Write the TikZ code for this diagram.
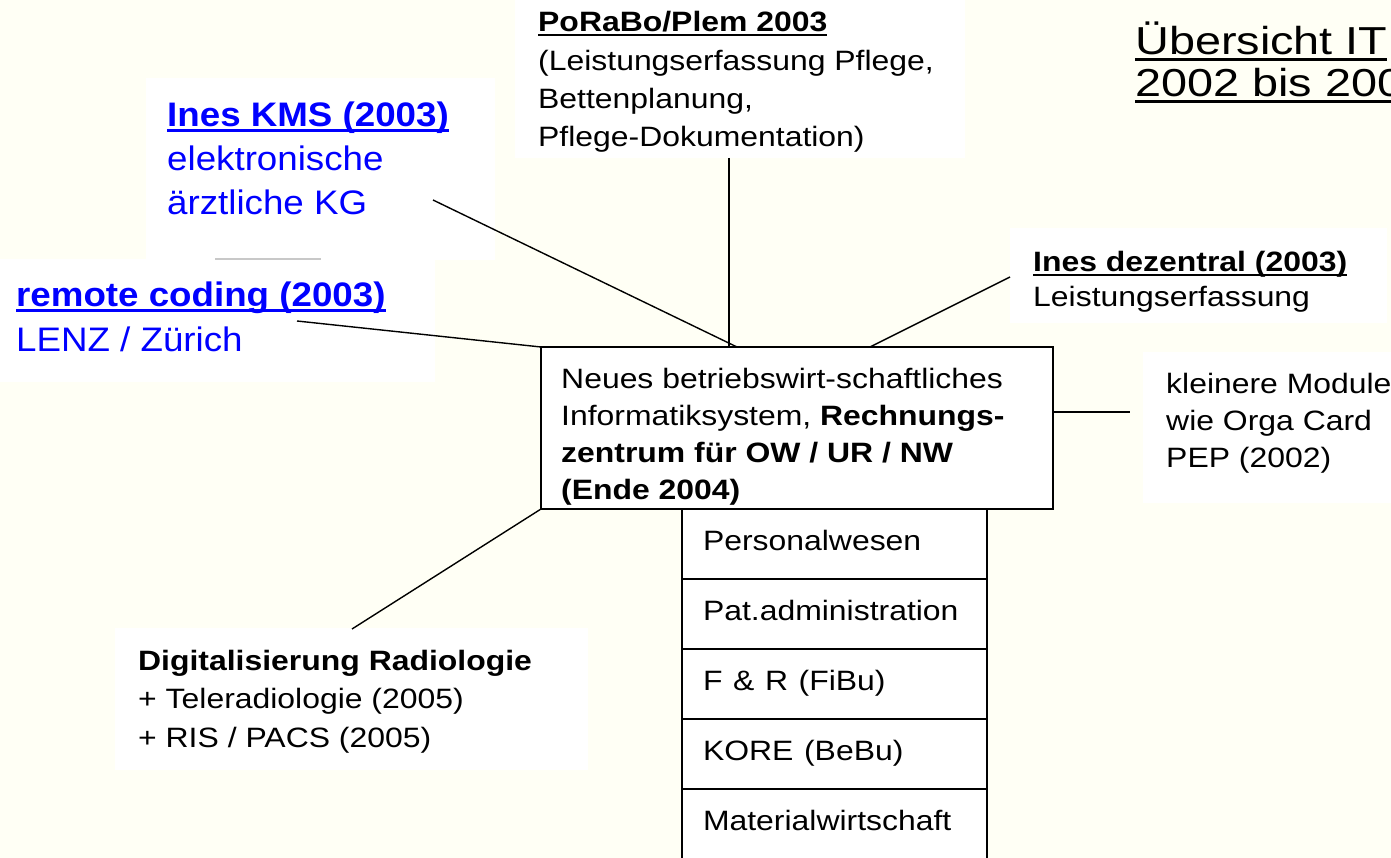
\documentclass[tikz,border=0pt]{standalone}
\usepackage{fontspec}
\setmainfont{Liberation Sans}
\usetikzlibrary{positioning}
\definecolor{slidebg}{RGB}{255,255,245}
\definecolor{rulegray}{RGB}{200,200,200}
\newlength{\ulthick}\setlength{\ulthick}{2.4pt}
\newlength{\uldepth}\setlength{\uldepth}{4.2pt}
\newsavebox{\ulbox}
\newcommand{\ulin}[1]{\sbox{\ulbox}{#1}\rlap{\rule[-\uldepth]{\wd\ulbox}{\ulthick}}\usebox{\ulbox}}
\newcommand{\wide}[2]{\scalebox{#1}[1]{\begin{tabular}[t]{@{}l@{}}#2\end{tabular}}}
\tikzset{
  blk/.style={inner sep=0pt, anchor=base west, font=\fontsize{28}{#1}\selectfont},
  blk/.default=37.5,
  blu/.style={inner sep=0pt, anchor=base west, text=blue,
    font=\fontsize{34}{44}\selectfont\setlength{\ulthick}{2.8pt}\setlength{\uldepth}{4.9pt}},
  ttl/.style={inner sep=0pt, anchor=base west,
    font=\fontsize{39}{42}\selectfont\setlength{\ulthick}{3.2pt}\setlength{\uldepth}{6.1pt}},
  modul/.style={draw, fill=white, line width=1.6pt, outer sep=0pt,
    minimum width=305pt, minimum height=70pt, inner xsep=21pt, text width=263pt,
    align=left, text height=20pt, text depth=8pt, font=\fontsize{28}{37.5}\selectfont},
  link/.style={line width=1.4pt}
}
\begin{document}
\begin{tikzpicture}[x=1pt,y=-1pt]
\useasboundingbox (0,0) rectangle (1391,858);
\fill[slidebg] (0,0) rectangle (1391,858);
\fill[white] (146,78) rectangle (495,260);
\fill[white] (0,259) rectangle (435,382);
\fill[white] (515,0) rectangle (965,158);
\fill[white] (1010,228) rectangle (1387,323);
\fill[white] (1143,352) rectangle (1391,503);
\fill[white] (115,628) rectangle (588,770);
\draw[rulegray, line width=1.5pt] (215,259) -- (321,259);
\node[draw, fill=white, line width=1.6pt, outer sep=0pt, minimum width=512pt,
  minimum height=162pt, anchor=north west] (zentrum) at (541,347) {};
\node[modul, anchor=north west] (personal) at (682,509) {\wide{1.14}{Personalwesen}};
\node[modul, below=0pt of personal] (patadmin) {\wide{1.14}{Pat.administration}};
\node[modul, below=0pt of patadmin] (fibu) {\wide{1.14}{F \& R (FiBu)}};
\node[modul, below=0pt of fibu] (bebu) {\wide{1.14}{KORE (BeBu)}};
\node[modul, below=0pt of bebu] (material) {\wide{1.14}{Materialwirtschaft}};
\node[blk=37] (zentrumtext) at (561,388) {\wide{1.14}{Neues betriebswirt-schaftliches\\
  Informatiksystem, \textbf{Rechnungs-}\\\textbf{zentrum für OW / UR / NW}\\\textbf{(Ende 2004)}}};
\node[ttl] (titel) at (1135,55) {\wide{1.2}{\ulin{Übersicht IT}\\\ulin{2002 bis 200}}};
\node[blk=38.3] (porabo) at (538,32) {\wide{1.14}{\textbf{\ulin{PoRaBo/Plem 2003}}\\
  (Leistungserfassung Pflege,\\Bettenplanung,\\Pflege-Dokumentation)}};
\node[blu] (kms) at (167,127) {\wide{1.08}{\textbf{\ulin{Ines KMS (2003)}}\\elektronische\\ärztliche KG}};
\node[blu] (remote) at (16,307) {\wide{1.08}{\textbf{\ulin{remote coding (2003)}}\\LENZ / Zürich}};
\node[blk=35] (dezentral) at (1033,272) {\wide{1.14}{\textbf{\ulin{Ines dezentral (2003)}}\\Leistungserfassung}};
\node[blk=37] (module) at (1166,393) {\wide{1.14}{kleinere Module\\wie Orga Card\\PEP (2002)}};
\node[blk=38.5] (radiologie) at (138,670) {\wide{1.14}{\textbf{Digitalisierung Radiologie}\\
  + Teleradiologie (2005)\\+ RIS / PACS (2005)}};
\coordinate (kmsend) at (433,200);
\coordinate (poraboend) at (729,158);
\coordinate (dezend) at (1010,277);
\coordinate (remoteend) at (297,321);
\coordinate (radioend) at (352,629);
\coordinate (moduleend) at (1130,412);
\draw[link] (kmsend) -- ([xshift=196pt]zentrum.north west);
\draw[link] (poraboend) -- ([xshift=188pt]zentrum.north west);
\draw[link] (dezend) -- ([xshift=329pt]zentrum.north west);
\draw[link] (remoteend) -- (zentrum.north west);
\draw[link] (radioend) -- (zentrum.south west);
\draw[link] ([yshift=16pt]zentrum.east) -- (moduleend);
\end{tikzpicture}
\end{document}
